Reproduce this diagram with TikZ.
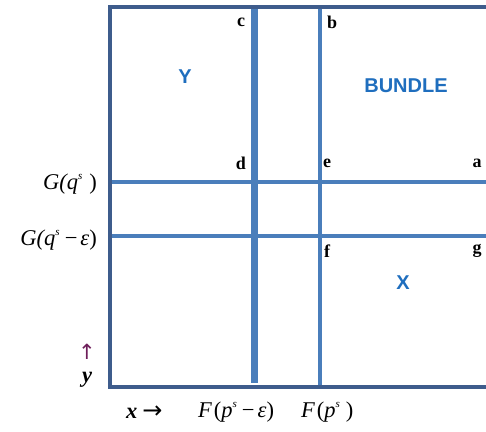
\documentclass[tikz,border=0pt]{standalone}
\usepackage{fontspec}
\setmainfont{Liberation Serif}
\setsansfont{Liberation Sans}
\newfontfamily\dvs{DejaVu Sans}
\definecolor{frameblue}{RGB}{62,92,140}
\definecolor{lineblue}{RGB}{74,126,187}
\definecolor{txtblue}{RGB}{31,110,190}
\definecolor{arrpurple}{RGB}{110,30,90}
\newcommand{\sups}{\raisebox{0.42em}{\fontsize{11}{11}\selectfont\itshape s}}
\newcommand{\mns}{\hspace{5pt}\upshape−\hspace{3pt}\itshape}
\begin{document}
\begin{tikzpicture}[x=1pt,y=-1pt,
  frame/.style={draw=frameblue,line width=4.5pt},
  gline/.style={draw=lineblue,line width=4pt},
  pt/.style={font=\bfseries\fontsize{18}{20}\selectfont},
  reg/.style={font=\sffamily\bfseries\fontsize{20}{23}\selectfont,text=txtblue},
  axl/.style={font=\itshape\fontsize{22.5}{25}\selectfont,inner sep=0pt}]
\useasboundingbox (0,0) rectangle (486,431);
% grid lines
\coordinate (h1l) at (109,182); \coordinate (h1r) at (486,182);
\coordinate (h2l) at (109,236); \coordinate (h2r) at (486,236);
\coordinate (v1t) at (254,7); \coordinate (v1b) at (254,383);
\coordinate (v2t) at (320,7); \coordinate (v2b) at (320,387);
\draw[gline] (h1l) -- (h1r);
\draw[gline] (h2l) -- (h2r);
\draw[gline,line width=7pt] (v1t) -- (v1b);
\draw[gline] (v2t) -- (v2b);
% frame
\coordinate (ftr) at (486,7); \coordinate (ftl) at (110,7);
\coordinate (fbl) at (110,387); \coordinate (fbr) at (486,387);
\draw[frame] (ftr) -- (ftl) -- (fbl) -- (fbr);
% point labels
\node[pt] (c) at (241,22) {c};
\node[pt] (b) at (332,22) {b};
\node[pt] (d) at (241,163) {d};
\node[pt] (e) at (327,163) {e};
\node[pt] (a) at (477,163) {a};
\node[pt] (f) at (327,251) {f};
\node[pt] (g) at (477,251) {g};
\node[reg] (Y) at (185,77) {Y};
\node[reg] (bundle) at (406,86) {BUNDLE};
\node[reg] (X) at (403,283) {X};
% axis labels
\node[axl,anchor=east] (G1) at (97,184) {G(q\sups\hspace{7pt}\upshape)};
\node[axl,anchor=east] (G2) at (97,240) {G(q\sups\mns ε\upshape)};
\node[font=\dvs\fontsize{21}{21}\selectfont,text=arrpurple,inner sep=0pt] (up) at (87,352) {↑};
\node[axl] (yy) at (87,380) {\bfseries y};
\node[axl,anchor=west] (xx) at (126,412) {\bfseries x\hspace{5pt}\upshape\mdseries\dvs\fontsize{24}{24}\selectfont →};
\node[axl,anchor=west] (F1) at (198,412) {F\hspace{2pt}\upshape(\itshape p\sups\mns ε\upshape)};
\node[axl,anchor=west] (F2) at (301,412) {F\hspace{2pt}\upshape(\itshape p\sups\hspace{6pt}\upshape)};
\end{tikzpicture}
\end{document}
